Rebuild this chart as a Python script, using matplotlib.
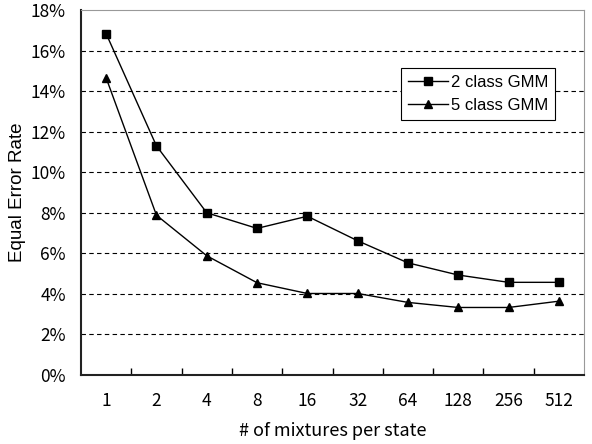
import numpy as np
import matplotlib.pyplot as plt
from matplotlib.ticker import FuncFormatter

mixtures = ['1', '2', '4', '8', '16', '32', '64', '128', '256', '512']
gmm2 = [16.83, 11.3, 8.0, 7.23, 7.83, 6.62, 5.53, 4.93, 4.57, 4.57]
gmm5 = [14.65, 7.88, 5.88, 4.55, 4.02, 4.02, 3.58, 3.33, 3.33, 3.64]

plt.rcParams['font.family'] = ['Noto Sans CJK JP', 'DejaVu Sans']

fig = plt.figure(figsize=(5.92, 4.44), dpi=100)
ax = fig.add_axes([81/592, 1-375/444, 503/592, 365/444])

x = np.arange(len(mixtures))
ax.plot(x, gmm2, color='black', lw=1, marker='s', ms=5.5, label='2 class GMM')
ax.plot(x, gmm5, color='black', lw=1, marker='^', ms=6, label='5 class GMM')

ax.set_xlim(-0.5, len(mixtures) - 0.5)
ax.set_ylim(0, 18)
ax.set_yticks(np.arange(0, 19, 2))
ax.yaxis.set_major_formatter(FuncFormatter(lambda v, p: '%d%%' % v))
ax.set_xticks(x)
ax.set_xticklabels(mixtures)
ax.set_xticks(np.arange(0.5, len(mixtures) - 0.5, 1), minor=True)
ax.tick_params(axis='x', which='major', length=0, pad=12, labelsize=12.5)
ax.tick_params(axis='x', which='minor', direction='in', length=5, width=1)
ax.tick_params(axis='y', length=0, pad=11, labelsize=12.5)

for v in range(2, 18, 2):
    ax.axhline(v, color='black', lw=0.8, ls=(0, (4, 3)), zorder=0)

ax.spines['left'].set_linewidth(1.5)
ax.spines['bottom'].set_linewidth(1.5)
ax.spines['left'].set_color('#222222')
ax.spines['bottom'].set_color('#222222')
ax.spines['top'].set_color('#999999')
ax.spines['right'].set_color('#999999')

ax.set_ylabel('Equal Error Rate', fontsize=13.5, family='Liberation Sans', labelpad=3)
ax.set_xlabel('# of mixtures per state', fontsize=13, labelpad=9)

leg = ax.legend(loc='upper left', bbox_to_anchor=(320/503, 1-58/365), fancybox=False,
                edgecolor='black', framealpha=1, prop={'family': 'Liberation Sans', 'size': 12},
                handlelength=2.4, borderpad=0.4, labelspacing=0.5, handletextpad=0.2,
                borderaxespad=0)
leg.get_frame().set_linewidth(0.8)

fig.savefig('out.png', dpi=100)
